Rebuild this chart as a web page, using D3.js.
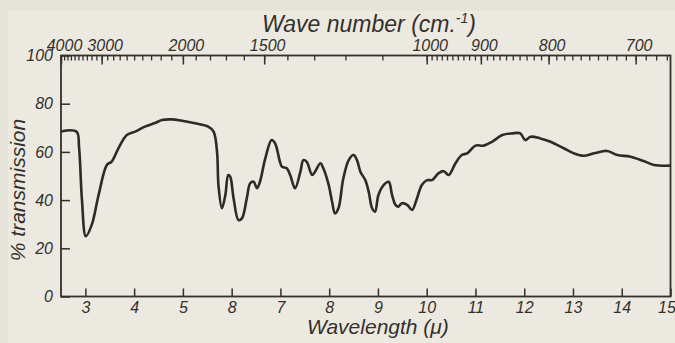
<!DOCTYPE html>
<html>
<head>
<meta charset="utf-8">
<script src="https://cdn.jsdelivr.net/npm/d3@7"></script>
<style>
  html, body { margin: 0; padding: 0; background: #e6e3d9; }
  svg { display: block; }
  .axis path, .axis line { stroke: #34302c; }
  .axis text { fill: #34302c; font-family: "Liberation Sans", Arial, sans-serif; font-style: italic; font-size: 16px; }
  .title { fill: #34302c; font-family: "Liberation Sans", Arial, sans-serif; font-style: italic; }
</style>
</head>
<body>
<div id="chart"></div>
<script>
// spectrum: wavelength (micron) and % transmission
var wavelength = [2.5, 2.82, 2.87, 2.93, 3.01, 3.13, 3.27, 3.44, 3.54, 3.68, 3.85, 4.02, 4.22, 4.43, 4.57, 4.77,
  5.01, 5.25, 5.52, 5.63, 5.70, 5.73, 5.80, 5.87, 5.93, 5.97, 6.04, 6.14, 6.21, 6.31, 6.38, 6.45, 6.52, 6.58,
  6.69, 6.82, 6.89, 6.99, 7.03, 7.13, 7.20, 7.30, 7.41, 7.47, 7.54, 7.65, 7.71, 7.82, 7.88, 7.99, 8.06, 8.12,
  8.19, 8.29, 8.40, 8.50, 8.57, 8.64, 8.74, 8.81, 8.88, 8.94, 9.01, 9.12, 9.22, 9.29, 9.36, 9.42, 9.49, 9.60,
  9.70, 9.80, 9.90, 10.01, 10.11, 10.24, 10.35, 10.45, 10.59, 10.72, 10.83, 11.00, 11.17, 11.34, 11.55, 11.75,
  11.92, 12.02, 12.13, 12.33, 12.54, 12.81, 13.02, 13.22, 13.43, 13.70, 13.91, 14.18, 14.45, 14.66, 15.0];
var transmission = [68.5, 68.4, 62, 40, 25, 29.7, 42, 54.6, 56, 61.6, 67, 68.4, 70.5, 72, 73.2, 73.5,
  72.8, 71.9, 70.5, 68.4, 60, 46, 36.6, 42, 50.4, 49.7, 40.7, 31.7, 32.4, 40.7, 47, 47.6, 44.9, 47.6,
  57.3, 64.9, 63.6, 55.9, 53.9, 53.2, 50.4, 44.9, 51.8, 56.6, 55.9, 50.4, 51.8, 55.3, 53.2, 46.3, 39.3, 34.5,
  36.6, 49, 56.6, 58.7, 56.6, 51.8, 48.3, 43.5, 36.6, 35.2, 42.1, 46.3, 47.6, 42.1, 38, 37.3, 38.7, 38,
  35.9, 40.7, 46.3, 48.3, 48.3, 51.1, 52, 50.4, 55.3, 58.7, 59.4, 62.6, 62.6, 64.2, 67, 67.7,
  67.7, 64.9, 66.3, 65.6, 64.2, 61.5, 59.4, 58.4, 59.4, 60.4, 58.7, 58, 56.2, 54.6, 54.3];

var wavelengthTicks = [3, 4, 5, 6, 7, 8, 9, 10, 11, 12, 13, 14, 15];
var wavelengthLabels = ["3", "4", "5", "8", "7", "8", "9", "10", "11", "12", "13", "14", "15"];
var percentTicks = [0, 20, 40, 60, 80, 100];
var wavenumberLabels = [4000, 3000, 2000, 1500, 1000, 900, 800, 700];
var wavenumberMinor = d3.range(4000, 1000, -100).concat(d3.range(1000, 660, -10));

var width = 675, height = 343;
var plot = { left: 61, right: 670.5, top: 55.5, bottom: 296.5 };

var svg = d3.select("#chart").append("svg")
  .attr("width", width)
  .attr("height", height);

svg.append("rect")
  .attr("x", 8).attr("y", 11)
  .attr("width", width - 8).attr("height", height - 11)
  .attr("fill", "#ece9e0");

var x = d3.scaleLinear().domain([2.5, 15]).range([plot.left, plot.right]);
var y = d3.scaleLinear().domain([0, 100]).range([plot.bottom, plot.top]);
// wave number is 10000 / wavelength, so position is linear in 1/wn
var xTop = d3.scalePow().exponent(-1).domain([4000, 10000 / 15]).range([plot.left, plot.right]);

// minor ticks on top
svg.append("g")
  .attr("class", "axis")
  .attr("transform", "translate(0," + plot.top + ")")
  .call(d3.axisTop(xTop).tickValues(wavenumberMinor).tickSize(-5).tickFormat(""))
  .call(function (g) { g.select(".domain").remove(); })
  .selectAll("line").attr("stroke-width", 1.3);

svg.append("g")
  .attr("class", "axis")
  .attr("transform", "translate(0," + plot.top + ")")
  .call(d3.axisTop(xTop).tickValues(wavenumberLabels).tickSize(-9).tickPadding(4).tickFormat(d3.format("d")))
  .call(function (g) { g.select(".domain").remove(); })
  .call(function (g) { g.selectAll("line").attr("stroke-width", 1.5); })
  .selectAll("text").attr("dx", 3).attr("dy", -1);

svg.append("g")
  .attr("class", "axis")
  .attr("transform", "translate(0," + plot.bottom + ")")
  .call(d3.axisBottom(x).tickValues(wavelengthTicks).tickSize(-8).tickPadding(5)
    .tickFormat(function (d, i) { return wavelengthLabels[i]; }))
  .call(function (g) { g.select(".domain").remove(); })
  .call(function (g) { g.selectAll("line").attr("stroke-width", 1.5); })
  .selectAll("text").attr("dx", function (d) { return d === 15 ? -4 : 0; });

svg.append("g")
  .attr("class", "axis")
  .attr("transform", "translate(" + plot.left + ",0)")
  .call(d3.axisLeft(y).tickValues(percentTicks).tickSize(-9).tickPadding(8))
  .call(function (g) { g.select(".domain").remove(); })
  .selectAll("line").attr("stroke-width", 1.5);

// frame
svg.append("rect")
  .attr("x", plot.left).attr("y", plot.top)
  .attr("width", plot.right - plot.left).attr("height", plot.bottom - plot.top)
  .attr("fill", "none")
  .attr("stroke", "#34302c")
  .attr("stroke-width", 1.8);

var points = wavelength.map(function (d, i) { return [d, transmission[i]]; });

var line = d3.line()
  .x(function (d) { return x(d[0]); })
  .y(function (d) { return y(d[1]); })
  .curve(d3.curveCatmullRom.alpha(0.5));

svg.append("path")
  .datum(points)
  .attr("d", line)
  .attr("fill", "none")
  .attr("stroke", "#2e2a27")
  .attr("stroke-width", 2.6)
  .attr("stroke-linejoin", "round");

var t = svg.append("text")
  .attr("class", "title")
  .attr("x", 262).attr("y", 32)
  .style("font-size", "23px");
t.append("tspan").text("Wave number (cm.");
t.append("tspan").attr("dy", -9).style("font-size", "14px").text("-1");
t.append("tspan").attr("dy", 9).text(")");

svg.append("text")
  .attr("class", "title")
  .attr("x", 307).attr("y", 334)
  .style("font-size", "21px")
  .text("Wavelength (\u03bc)");

svg.append("text")
  .attr("class", "title")
  .attr("text-anchor", "middle")
  .style("font-size", "21px")
  .attr("transform", "translate(25,190) rotate(-90)")
  .text("% transmission");
</script>
</body>
</html>
